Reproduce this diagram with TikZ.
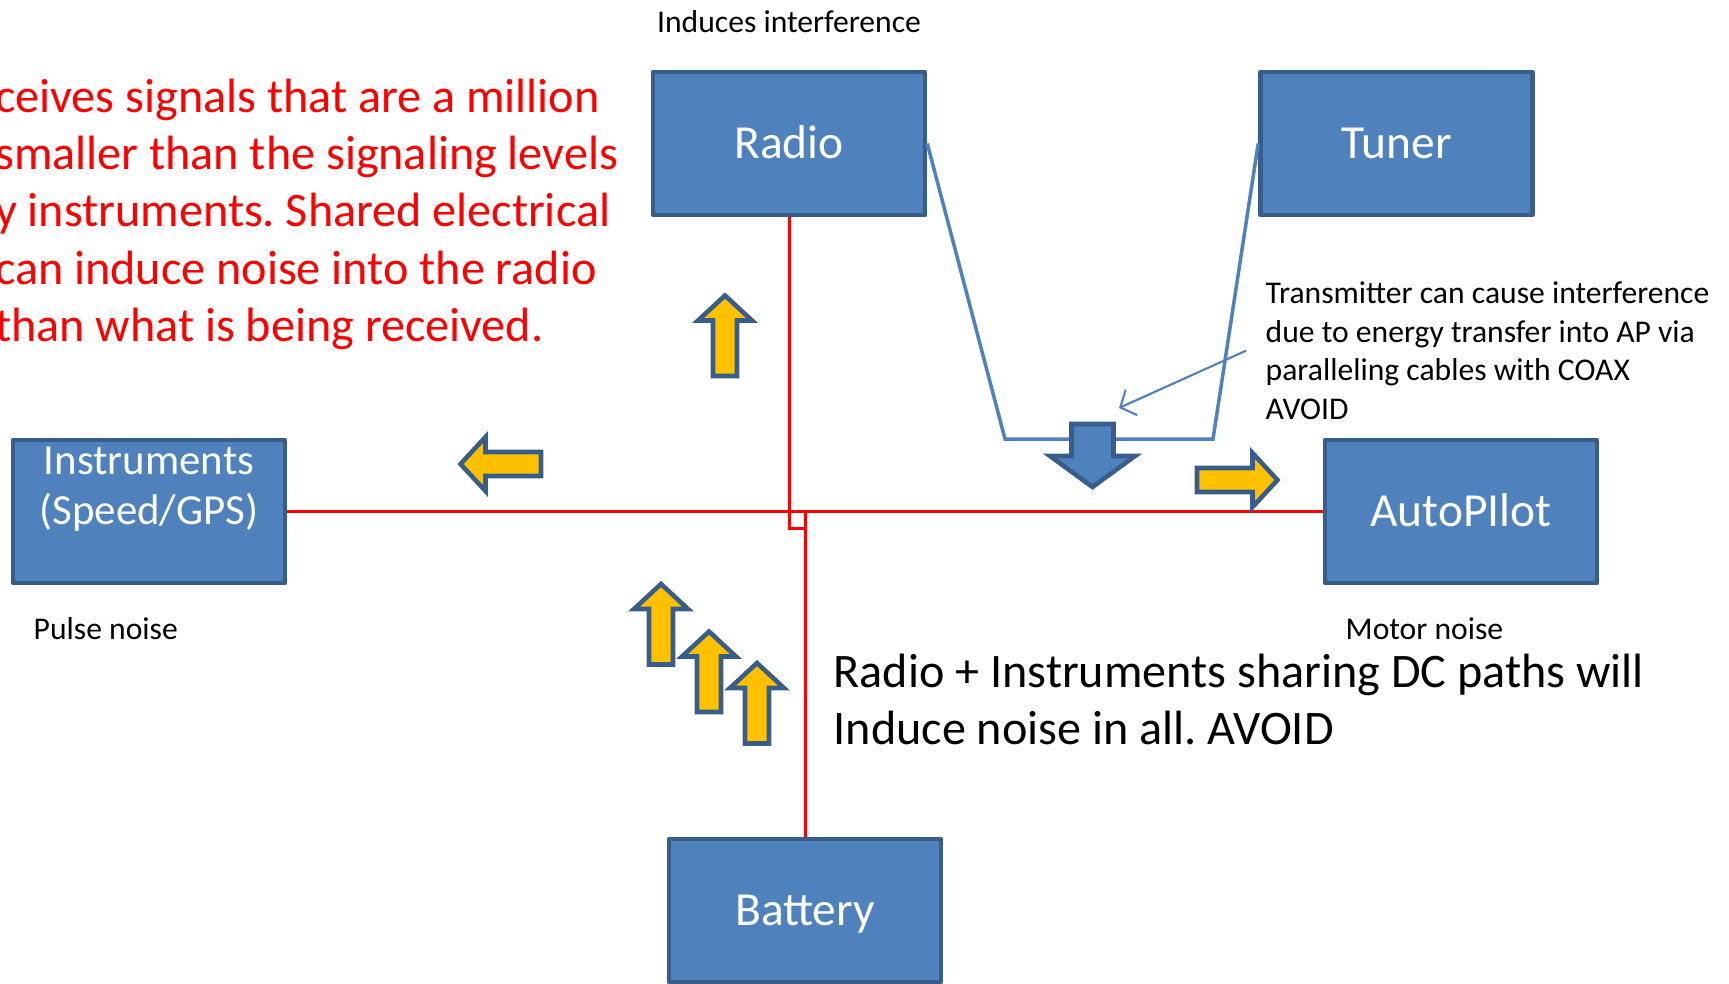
\documentclass[tikz,border=0pt]{standalone}
\usepackage{fontspec}
\setmainfont{Carlito}
\usepackage{xcolor}
\usetikzlibrary{arrows.meta, positioning}
\definecolor{UnitBlue}   {HTML}{4F81BD}
\definecolor{UnitEdge}   {HTML}{385D8A}
\definecolor{NoiseYellow}{HTML}{FFC000}
\definecolor{WireRed}    {HTML}{FF0000}
\frenchspacing

\tikzset{
  noisearrow/.pic={
    \draw[fill=NoiseYellow, draw=UnitEdge, line width=1.3pt, line join=miter]
      (0,0.40) -- (0.27,0.15) -- (0.12,0.15) -- (0.12,-0.405) -- (-0.12,-0.405)
      -- (-0.12,0.15) -- (-0.27,0.15) -- cycle;
  }
}

\begin{document}
\begin{tikzpicture}[
    unit/.style={draw=UnitEdge, fill=UnitBlue, line width=1.3pt, line join=round,
                 minimum width=2.72cm, minimum height=1.43cm, inner sep=0pt,
                 text=white, font=\fontsize{13.5}{14.2}\selectfont,
                 text height=8.7pt, text depth=0pt},
    dcwire/.style={WireRed, line width=0.85pt},
    coax/.style={UnitBlue, line width=1pt, line join=miter},
    warn/.style={text=WireRed, font=\fontsize{13.7}{16.3}\selectfont, align=left, inner sep=0pt},
    bignote/.style={text=black, font=\fontsize{13.7}{16.3}\selectfont, align=left, inner sep=0pt},
    note/.style={text=black, font=\fontsize{9}{11}\selectfont, align=left, inner sep=0pt}
  ]
  \useasboundingbox (0,0) rectangle (17.29,-9.83);

  % Units
  \node[unit] (radio)     at (7.89,-1.435)  {Radio};
  \node[unit] (tuner)     at (13.965,-1.435) {Tuner};
  \node[unit] (instr)     at (1.49,-5.115)  {};
  \node[unit, anchor=north, minimum width=0pt, minimum height=0pt, fill=none, draw=none,
        align=center, text height=, text depth=, font=\fontsize{12.2}{14.2}\selectfont]
              (instrtext) at ([yshift=-0.07cm]instr.north) {Instruments\\(Speed/GPS)};
  \node[unit] (autopilot) at (14.61,-5.115) {AutoPIlot};
  \node[unit] (battery)   at (8.05,-9.105)  {Battery};

  % DC wiring
  \coordinate (jog) at (8.04,-5.28);
  \draw[dcwire] (instr.east) -- (autopilot.west);
  \draw[dcwire] (radio.south) |- (jog);
  \draw[dcwire] (battery.north) -- (battery.north |- instr.east);

  % Coax run
  \coordinate (coaxL) at (10.05,-4.39);
  \coordinate (coaxR) at (12.13,-4.39);
  \draw[coax] (radio.east) -- (coaxL) -- (coaxR) -- (tuner.west);

  % Coupling arrow (blue)
  \draw[fill=UnitBlue, draw=UnitEdge, line width=1.3pt]
    (10.715,-4.24) -- (11.135,-4.24) -- (11.135,-4.56) -- (11.35,-4.56)
    -- (10.925,-4.87) -- (10.50,-4.56) -- (10.715,-4.56) -- cycle;

  % Noise arrows
  \pic             at (7.25,-3.355)  {noisearrow};
  \pic[rotate=90]  at (5.005,-4.64)  {noisearrow};
  \pic[rotate=-90] at (12.375,-4.80) {noisearrow};
  \pic             at (6.61,-6.24)   {noisearrow};
  \pic             at (7.09,-6.715)  {noisearrow};
  \pic             at (7.57,-7.03)   {noisearrow};

  % Annotations
  \node[note, anchor=base] (inducesnote) at (7.89,-0.32) {Induces interference};
  \node[note, anchor=base west] (pulsenote) at (0.33,-6.39) {Pulse noise};
  \node[note, anchor=base west] (motornote) at (13.45,-6.39) {Motor noise};
  \node[note, anchor=north west] (coaxnote) at (12.65,-2.81)
    {Transmitter can cause interference\\due to energy transfer into AP via\\paralleling cables with COAX\\AVOID};
  \coordinate (hit) at (11.19,-4.08);
  \draw[UnitBlue, line width=0.6pt, -{Straight Barb[length=3.5pt, width=8pt]}]
    ([xshift=-1.9mm]coaxnote.west) -- (hit);
  \node[warn, anchor=north west] (radiowarn) at (-0.055,-0.78)
    {ceives signals that are a million\\smaller than the signaling levels\\y instruments. Shared electrical\\can induce noise into the radio\\than what is being received.};
  \node[bignote, anchor=north west] (dcnote) at (8.33,-6.53)
    {Radio + Instruments sharing DC paths will\\Induce noise in all. AVOID};
\end{tikzpicture}
\end{document}
